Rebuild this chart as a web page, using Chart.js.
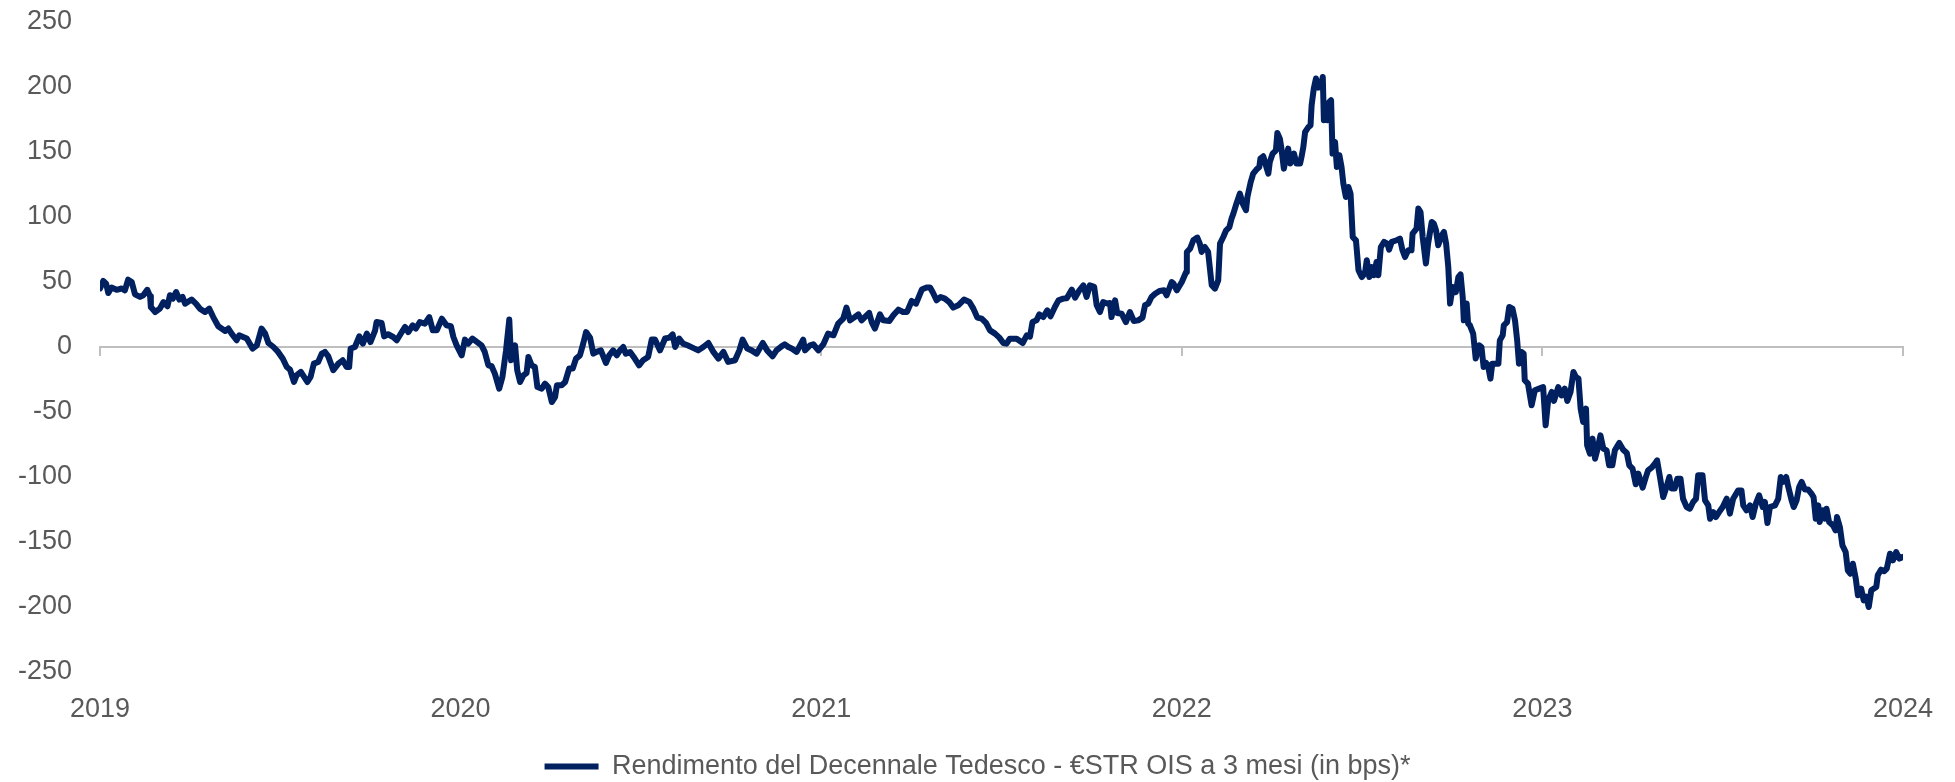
<!DOCTYPE html>
<html>
<head>
<meta charset="utf-8">
<script src="https://cdn.jsdelivr.net/npm/chart.js@4.4.0/dist/chart.umd.min.js"></script>
<style>
  html, body { margin: 0; padding: 0; background: #fff; }
  #wrap { width: 1955px; height: 782px; }
</style>
</head>
<body>
<div id="wrap"><canvas id="chart" width="1955" height="782"></canvas></div>
<script>
// x values are fractions of a year counted from 1 Jan 2019
const startYear = 2019;
const yearLabels = ["2019", "2020", "2021", "2022", "2023", "2024"];
const seriesLabel = "Rendimento del Decennale Tedesco - €STR OIS a 3 mesi (in bps)*";

const t = [
  0.000, 0.009, 0.017, 0.023, 0.032, 0.046, 0.060, 0.069, 0.078, 0.088,
  0.097, 0.111, 0.120, 0.131, 0.139, 0.141, 0.153, 0.166, 0.176, 0.187,
  0.194, 0.202, 0.211, 0.220, 0.229, 0.236, 0.254, 0.266, 0.277, 0.291,
  0.303, 0.314, 0.328, 0.347, 0.356, 0.365, 0.379, 0.386, 0.397, 0.407,
  0.423, 0.435, 0.448, 0.458, 0.467, 0.481, 0.494, 0.507, 0.518, 0.527,
  0.538, 0.545, 0.557, 0.566, 0.575, 0.584, 0.593, 0.605, 0.615, 0.624,
  0.633, 0.647, 0.661, 0.673, 0.684, 0.691, 0.695, 0.707, 0.719, 0.729,
  0.740, 0.750, 0.763, 0.767, 0.781, 0.788, 0.799, 0.813, 0.823, 0.837,
  0.846, 0.855, 0.867, 0.876, 0.887, 0.901, 0.913, 0.923, 0.934, 0.948,
  0.961, 0.973, 0.980, 0.989, 1.003,
  1.012, 1.021, 1.033, 1.046, 1.058, 1.067, 1.077, 1.086, 1.095, 1.107,
  1.116, 1.126, 1.135, 1.140, 1.151, 1.157, 1.165, 1.174, 1.183, 1.188,
  1.197, 1.206, 1.213, 1.225, 1.234, 1.243, 1.253, 1.262, 1.267, 1.280,
  1.290, 1.301, 1.311, 1.320, 1.331, 1.340, 1.348, 1.359, 1.368, 1.377,
  1.389, 1.403, 1.412, 1.423, 1.433, 1.442, 1.451, 1.458, 1.470, 1.483,
  1.495, 1.506, 1.520, 1.530, 1.539, 1.553, 1.567, 1.579, 1.588, 1.595,
  1.606, 1.617, 1.629, 1.643, 1.659, 1.673, 1.687, 1.701, 1.715, 1.729,
  1.742, 1.761, 1.773, 1.782, 1.795, 1.807, 1.821, 1.838, 1.850, 1.865,
  1.876, 1.890, 1.899, 1.909, 1.918, 1.932, 1.950, 1.955, 1.969, 1.978,
  1.992, 2.006,
  2.019, 2.034, 2.047, 2.061, 2.070, 2.080, 2.091, 2.103, 2.112, 2.121,
  2.133, 2.140, 2.149, 2.163, 2.172, 2.189, 2.200, 2.214, 2.227, 2.238,
  2.251, 2.263, 2.279, 2.292, 2.302, 2.309, 2.320, 2.331, 2.343, 2.355,
  2.366, 2.380, 2.396, 2.411, 2.422, 2.433, 2.445, 2.457, 2.468, 2.482,
  2.494, 2.505, 2.514, 2.523, 2.542, 2.559, 2.570, 2.579, 2.586, 2.597,
  2.605, 2.616, 2.627, 2.636, 2.648, 2.658, 2.671, 2.681, 2.695, 2.704,
  2.716, 2.727, 2.736, 2.745, 2.757, 2.764, 2.773, 2.782, 2.793, 2.801,
  2.805, 2.815, 2.821, 2.833, 2.845, 2.856, 2.867, 2.879, 2.891, 2.898,
  2.907, 2.916, 2.926, 2.938, 2.951, 2.958, 2.972, 2.977, 2.986, 3.000,
  3.012,
  3.014, 3.023, 3.032, 3.043, 3.050, 3.055, 3.064, 3.073, 3.083, 3.092,
  3.101, 3.106, 3.115, 3.123, 3.132, 3.138, 3.143, 3.150, 3.161, 3.169,
  3.178, 3.182, 3.191, 3.198, 3.207, 3.215, 3.218, 3.226, 3.233, 3.240,
  3.244, 3.252, 3.261, 3.265, 3.272, 3.277, 3.283, 3.290, 3.295, 3.301,
  3.311, 3.318, 3.328, 3.332, 3.337, 3.342, 3.351, 3.357, 3.360, 3.366,
  3.372, 3.378, 3.385, 3.391, 3.394, 3.400, 3.404, 3.409, 3.414, 3.418,
  3.425, 3.430, 3.437, 3.443, 3.448, 3.455, 3.462, 3.468, 3.474, 3.483,
  3.490, 3.499, 3.508, 3.513, 3.520, 3.526, 3.533, 3.540, 3.545, 3.552,
  3.561, 3.570, 3.575, 3.582, 3.596, 3.605, 3.612, 3.619, 3.628, 3.637,
  3.640, 3.651, 3.656, 3.662, 3.668, 3.677, 3.683, 3.693, 3.699, 3.705,
  3.711, 3.721, 3.727, 3.733, 3.739, 3.744, 3.751, 3.760, 3.767, 3.773,
  3.779, 3.782, 3.790, 3.794, 3.799, 3.808, 3.815, 3.825, 3.831, 3.837,
  3.843, 3.849, 3.856, 3.861, 3.878, 3.882, 3.890, 3.893, 3.902, 3.908,
  3.917, 3.924, 3.930, 3.935, 3.942, 3.948, 3.951, 3.960,
  3.970, 3.979, 3.991, 4.002, 4.009, 4.016, 4.026, 4.032, 4.044, 4.053,
  4.062, 4.069, 4.078, 4.086, 4.093, 4.100, 4.106, 4.113, 4.121, 4.124,
  4.132, 4.139, 4.146, 4.152, 4.161, 4.169, 4.178, 4.185, 4.194, 4.201,
  4.213, 4.224, 4.234, 4.241, 4.250, 4.259, 4.266, 4.278, 4.287, 4.293,
  4.303, 4.312, 4.318, 4.326, 4.335, 4.344, 4.352, 4.358, 4.367, 4.374,
  4.383, 4.390, 4.400, 4.409, 4.418, 4.426, 4.432, 4.444, 4.451, 4.460,
  4.465, 4.474, 4.481, 4.490, 4.500, 4.511, 4.520, 4.529, 4.543, 4.552,
  4.557, 4.566, 4.576, 4.583, 4.592, 4.601, 4.611, 4.617, 4.624, 4.631,
  4.645, 4.654, 4.661, 4.668, 4.676, 4.682, 4.691, 4.697, 4.705, 4.712,
  4.719, 4.728, 4.737, 4.746, 4.752, 4.758, 4.765, 4.769, 4.777, 4.783,
  4.788, 4.795, 4.806, 4.813, 4.817, 4.825, 4.832, 4.841, 4.847, 4.854,
  4.861, 4.869, 4.875, 4.884, 4.891, 4.898, 4.905, 4.912, 4.926, 4.930,
  4.939, 4.948, 4.955, 4.964, 4.972, 4.981, 4.990, 4.999
];

const spread = [
  45, 50.8, 48.7, 41.5, 45.7, 44, 45, 43.6, 51.8, 50,
  40.5, 38.5, 39.8, 44, 39, 30.8, 26.9, 29.5, 34.6, 31.3,
  39.8, 37.2, 42.3, 36.5, 38.5, 33.4, 36.5, 33.4, 29.5, 26.9,
  29.5, 23, 16, 12.3, 14.2, 10.3, 5.2, 9, 7.7, 6.5,
  -1.2, 1.3, 14.2, 10.3, 3.1, 0, -3.8, -9, -15.4, -17.4,
  -26.9, -21.8, -19.2, -23, -26.9, -23, -12.8, -11.5, -5.1, -3.8,
  -7.2, -17.9, -12.8, -10.2, -15.4, -15.4, -1.2, 0, 8.2, 2.6,
  10.3, 3.8, 12.8, 19.2, 18.5, 8.2, 9.8, 7.7, 5.2, 11.5,
  15.4, 11.5, 16.7, 14.2, 19.2, 18, 23, 12.8, 12.8, 21.8,
  16.7, 16, 7.7, 1.3, -6.4,
  5.7, 2.6, 6.5, 3.8, 1.3, -3.8, -14.1, -14.8, -20.5, -32,
  -23, -2.6, 21.1, -10.2, 1.3, -17.9, -26.9, -21.8, -20, -7.7,
  -14.1, -15.4, -30.8, -32, -28.2, -30.8, -42.3, -38.5, -29.5, -29.5,
  -26.9, -16.6, -16.6, -8.9, -6.4, 2.6, 11.5, 7.2, -5.1, -3.8,
  -2.6, -12.3, -6.4, -2.6, -6.4, -2.6, 0, -5.1, -3.8, -8.9,
  -14.1, -10.2, -7.7, 5.7, 5.7, -2.6, 6.5, 7.2, 9.7, 0,
  6.5, 2.6, 1.3, -0.5, -2.6, 0, 3.1, -3.8, -8.9, -3.8,
  -11.5, -10.2, -2.6, 5.7, -1.2, -2.6, -5.1, 3.1, -2.6, -7.2,
  -2.6, 0.5, 2.1, 0, -1.2, -3.8, 5.7, -2.6, 1.3, 2.1,
  -2.6, 2.1,
  10.3, 9, 18, 21.8, 30.3, 20.5, 22.6, 25.1, 20.5, 23,
  26.2, 19.2, 14.2, 25.1, 20.5, 20, 24.4, 28.7, 26.9, 27,
  35.4, 33.4, 44.2, 45.7, 45.7, 42.3, 35.9, 38.5, 37.2, 34.6,
  30.3, 32.1, 36.5, 34.6, 29.5, 22.6, 21.8, 18.5, 12.8, 10.3,
  7.2, 3.1, 2.6, 6.4, 6.4, 3.1, 9, 8, 19.2, 20.5,
  25.1, 23, 28.2, 23.6, 30.8, 35.9, 37.2, 37.5, 44.2, 38,
  43.6, 47.4, 38.5, 47.4, 46.2, 32.1, 26.9, 34.6, 33.5, 33.8,
  23, 35.9, 26.2, 25.6, 19.2, 26.9, 20, 20.5, 22.6, 32.1,
  33.4, 38.5, 41, 43.1, 43.6, 39.8, 50, 48.8, 43.6, 50,
  57.7,
  73.1, 75.7, 82.1, 84.2, 79.5, 73.1, 76.9, 73.1, 47.5, 44.9,
  51.3, 79.5, 84.6, 89.8, 92.3, 98.8, 102.6, 109, 118, 110.3,
  105.2, 115.4, 126.9, 133.4, 136.5, 138.5, 144.9, 146.7, 139.8, 133.4,
  142.3, 148.8, 151.3, 164.6, 160.3, 151.3, 137.2, 146.2, 152.6, 141.1,
  148.8, 141.1, 141.1, 146.2, 153.8, 165.4, 169.2, 170.5, 185.9, 198.8,
  206.5, 199.5, 200, 207.7, 174.4, 180.8, 174.4, 188.5, 189.8, 148.8,
  157.7, 138.5, 147.5, 138.5, 125.7, 115.4, 123.1, 118, 84.6, 82.1,
  59, 53.8, 56.9, 66.7, 53.8, 61.5, 55.2, 65.4, 55.2, 76.9,
  80.8, 79.5, 74.9, 80.8, 82.1, 83.4, 74.4, 69.2, 74.4, 74.4,
  87.2, 91.1, 106.5, 103.8, 84.6, 64.2, 79.5, 96.2, 94.9, 89.8,
  78.2, 85.9, 88.5, 79.5, 61.5, 33.4, 46.2, 42.3, 53.8, 55.9,
  38.5, 20.5, 33.4, 18, 16.7, 10.3, -8.9, 1.3, 0, -15.4,
  -12, -14.1, -24.3, -12.8, -12.8, 5.1, 9, 16.7, 19.2, 30.8,
  29.5, 20.5, 5.1, -12.8, -3.8, -5.1, -25.6, -28.2,
  -44.8, -33.3, -32, -30.8, -60.2, -41, -34.6, -41.5, -30.8, -37.2,
  -32, -41.5, -34.6, -19.2, -23.1, -24.3, -47.4, -57.7, -47.4, -75.6,
  -82.1, -70.5, -85.9, -79.5, -68, -78.2, -79.5, -91, -91, -79.5,
  -73.8, -79, -81.5, -91, -93.6, -105.6, -97.4, -108.2, -100, -94.9,
  -92.8, -89.7, -87.2, -100, -115.4, -107.7, -100, -108.9, -108.9, -101.3,
  -101.3, -116.7, -123.1, -124.4, -119.2, -116.7, -98.7, -98.7, -117.9, -121.8,
  -132.1, -127, -130.8, -127, -123.1, -116.7, -128.2, -116.7, -110.3, -110.3,
  -121.8, -125.6, -121.8, -130.8, -120.5, -114.1, -123.1, -119.2, -135.4, -123.1,
  -121.8, -116.7, -100, -103.8, -100, -107.7, -117.9, -123.1, -117.9, -107.7,
  -103.8, -109.7, -109.7, -112.8, -115.4, -132.1, -121.8, -134.6, -125.6, -132,
  -124.4, -134.6, -137.2, -141, -130.8, -138.5, -152.6, -157.7, -171.8, -174.4,
  -166.7, -178.2, -191, -185.9, -194.9, -192, -200, -187.2, -184.6, -175.6,
  -171.3, -172.5, -170.5, -159, -164.1, -157.7, -162.8, -161.5
];

const lineColor = "#002060";
const axisGrey = "#bfbfbf";
const textGrey = "#595959";

Chart.defaults.font.family = "'Liberation Sans', Arial, sans-serif";
Chart.defaults.font.size = 27;
Chart.defaults.color = textGrey;

const points = t.map((v, i) => ({ x: startYear + v, y: spread[i] }));

new Chart(document.getElementById("chart").getContext("2d"), {
  type: "line",
  data: {
    datasets: [{
      label: seriesLabel,
      data: points,
      borderColor: lineColor,
      backgroundColor: lineColor,
      borderWidth: 6,
      borderJoinStyle: "round",
      borderCapStyle: "round",
      pointRadius: 0,
      tension: 0
    }]
  },
  options: {
    responsive: false,
    animation: false,
    devicePixelRatio: 1,
    layout: { padding: { top: 22, right: 0, bottom: -8, left: 0 } },
    plugins: {
      legend: {
        position: "bottom",
        labels: {
          usePointStyle: true,
          pointStyle: "line",
          pointStyleWidth: 54,
          padding: 10,
          color: textGrey,
          font: { size: 27 }
        }
      },
      tooltip: { enabled: false }
    },
    scales: {
      x: {
        type: "linear",
        min: 2019,
        max: 2024,
        grid: { display: false, drawTicks: true, tickLength: 21 },
        border: { display: false },
        ticks: {
          stepSize: 1,
          padding: 0,
          color: textGrey,
          callback: v => yearLabels[Math.round(v) - startYear]
        },
        afterFit: s => { s.height = 71; }
      },
      zero: {
        type: "linear",
        axis: "x",
        position: { y: 0 },
        min: 2019,
        max: 2024,
        ticks: { display: false, stepSize: 1 },
        grid: {
          drawOnChartArea: false,
          drawTicks: true,
          tickLength: 8,
          color: axisGrey,
          lineWidth: 2
        },
        border: { display: true, color: axisGrey, width: 2 }
      },
      y: {
        min: -250,
        max: 250,
        ticks: { stepSize: 50, padding: 0, color: textGrey },
        grid: { display: false, drawTicks: true, tickLength: 28 },
        border: { display: false },
        afterFit: s => { s.width = 100; }
      },
      // empty right-hand gutter, keeps the plot ending where the original does
      yRight: {
        position: "right",
        ticks: { display: false },
        grid: { display: false, drawTicks: false },
        border: { display: false },
        afterFit: s => { s.width = 52; }
      }
    }
  }
});
</script>
</body>
</html>
